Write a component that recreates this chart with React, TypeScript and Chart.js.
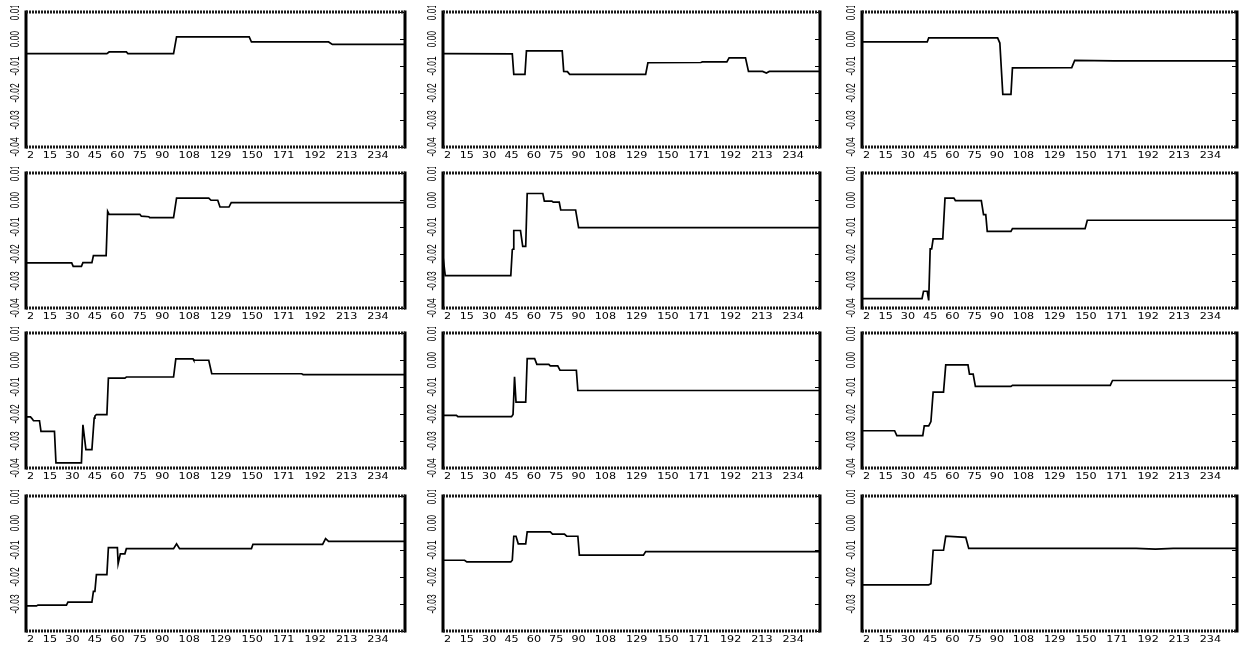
import React, { useEffect, useRef } from "react";
import { Chart, registerables } from "chart.js";

Chart.register(...registerables);

// ---------- data ----------
const xTickValues = [2, 15, 30, 45, 60, 75, 90, 108, 129, 150, 171, 192, 213, 234];
const xTickLabels = ["2", "15", "30", "45", "60", "75", "90", "108", "129", "150", "171", "192", "213", "234"];
const yTickValues = [0.01, 0, -0.01, -0.02, -0.03, -0.04];
const yTickLabels = ["0.01", "0.00", "-0.01", "-0.02", "-0.03", "-0.04"];
const xMin = -1;
const xMax = 252;
const yMin = -0.04;
const yMax = 0.01;

type P = [number, number];

const panel1: P[] = [[-1,-0.0054],[53,-0.0054],[54.5,-0.0048],[66,-0.0048],[67,-0.0054],[97.5,-0.0054],[99.5,0.0008],[148,0.0008],[149.5,-0.0011],[201,-0.0011],[203.5,-0.002],[252,-0.002]];
const panel2: P[] = [[-1,-0.0054],[45.5,-0.0055],[46.5,-0.0131],[54,-0.0131],[55,-0.0044],[79,-0.0044],[80,-0.012],[82.5,-0.0121],[84,-0.0131],[135,-0.0131],[136.5,-0.0088],[172,-0.0087],[173,-0.0085],[189.5,-0.0085],[191,-0.007],[202,-0.007],[204,-0.012],[213.5,-0.012],[216,-0.0126],[218,-0.012],[252,-0.012]];
const panel3: P[] = [[-1,-0.0011],[43,-0.0011],[44,0.0004],[90.5,0.0004],[92,-0.0015],[94,-0.0205],[99.5,-0.0205],[100.5,-0.0107],[140.5,-0.0106],[142.5,-0.0079],[169,-0.0081],[252,-0.0081]];
const panel4: P[] = [[-1,-0.0233],[29.5,-0.0233],[30.5,-0.0246],[36,-0.0246],[37,-0.0232],[43,-0.0232],[44,-0.0206],[52.5,-0.0206],[53.5,-0.0042],[54.5,-0.0053],[75,-0.0053],[76,-0.006],[81,-0.0062],[81.5,-0.0065],[97.5,-0.0065],[99.5,0.0007],[121,0.0007],[122.5,-0.0001],[127,-0.0001],[128.5,-0.0026],[134.5,-0.0026],[136,-0.001],[252,-0.001]];
const panel5: P[] = [[-1,-0.021],[0.5,-0.028],[44.5,-0.028],[45.5,-0.0184],[46,-0.0182],[46.5,-0.0113],[51,-0.0113],[52.5,-0.0172],[54.5,-0.0172],[55.5,0.0024],[66,0.0024],[67,-0.0004],[72,-0.0004],[73,-0.0008],[77,-0.0008],[78,-0.0037],[88,-0.0037],[90,-0.0102],[252,-0.0102]];
const panel6: P[] = [[-1,-0.0365],[39.5,-0.0365],[40.5,-0.0338],[43,-0.0338],[44,-0.0372],[45,-0.0181],[46,-0.0181],[47,-0.0144],[53.5,-0.0144],[55,0.0007],[61,0.0007],[62,-0.0002],[79.5,-0.0002],[81,-0.0054],[82.5,-0.0054],[83.5,-0.0116],[99.5,-0.0116],[100.5,-0.0106],[149.5,-0.0106],[151,-0.0075],[252,-0.0075]];
const panel7: P[] = [[-1,-0.0211],[2,-0.0211],[3,-0.0217],[4,-0.0225],[8,-0.0225],[9,-0.0264],[18,-0.0264],[19,-0.0381],[36,-0.0381],[37,-0.024],[39,-0.0332],[43,-0.0332],[44.5,-0.0215],[45,-0.0208],[46,-0.0202],[53,-0.0202],[54,-0.0067],[65,-0.0067],[66,-0.0063],[97.5,-0.0063],[99,0.0004],[110.5,0.0004],[111,-0.0001],[121,-0.0001],[123,-0.0051],[183,-0.0051],[184,-0.0054],[252,-0.0054]];
const panel8: P[] = [[-1,-0.0205],[8,-0.0205],[9,-0.021],[45,-0.021],[46,-0.0202],[47,-0.0062],[48,-0.0156],[54.5,-0.0156],[55.5,0.0005],[60.5,0.0005],[62,-0.0016],[70,-0.0016],[71,-0.0022],[76,-0.0022],[77.5,-0.0038],[88.5,-0.0038],[89.5,-0.0113],[252,-0.0113]];
const panel9: P[] = [[-1,-0.0262],[21,-0.0262],[22.5,-0.028],[40,-0.028],[41,-0.0244],[44,-0.0244],[45.5,-0.0228],[47,-0.0119],[54,-0.0119],[55.5,-0.0018],[70.5,-0.0018],[71.5,-0.0052],[74,-0.0052],[75.5,-0.0098],[99.5,-0.0098],[100.5,-0.0094],[166.5,-0.0094],[168,-0.0076],[252,-0.0076]];
const panel10: P[] = [[-1,-0.0307],[6,-0.0307],[7,-0.0304],[26,-0.0304],[27,-0.0293],[43,-0.0293],[44,-0.0253],[45,-0.0253],[46,-0.0191],[53,-0.0191],[54,-0.0091],[60,-0.0091],[60.5,-0.0151],[62,-0.0114],[65,-0.0114],[66,-0.0095],[97.5,-0.0095],[99.5,-0.0077],[101.5,-0.0095],[149.5,-0.0095],[150.5,-0.0079],[197,-0.0079],[199,-0.0058],[201,-0.0068],[252,-0.0068]];
const panel11: P[] = [[-1,-0.0138],[13.5,-0.0138],[15,-0.0144],[44.5,-0.0144],[45.5,-0.0138],[46.5,-0.0049],[48,-0.0049],[49.5,-0.0077],[54.5,-0.0077],[55.5,-0.0033],[71,-0.0033],[72.5,-0.0041],[80.5,-0.0041],[82,-0.0049],[89.5,-0.0049],[90.5,-0.0119],[133.5,-0.0119],[135,-0.0106],[252,-0.0106]];
const panel12: P[] = [[-1,-0.0229],[44,-0.0229],[45.5,-0.0225],[47,-0.0101],[54,-0.0101],[55.5,-0.0049],[69,-0.0053],[71,-0.0094],[184,-0.0094],[197,-0.0097],[209,-0.0094],[252,-0.0094]];

const panels: P[][] = [panel1, panel2, panel3, panel4, panel5, panel6, panel7, panel8, panel9, panel10, panel11, panel12];

// ---------- layout ----------
const colBounds: [number, number][] = [[26, 405], [443, 820], [862, 1237]];
const rowBounds: [number, number][] = [[12, 147], [173, 308], [333, 468], [496, 631]];
const PAD_L = 24;
const PAD_T = 6;
const PAD_R = 6;
const PAD_B = 22;

function Panel({ points, row, col }: { points: P[]; row: number; col: number }) {
  const ref = useRef<HTMLCanvasElement | null>(null);
  const [L, R] = colBounds[col];
  const [T, B] = rowBounds[row];
  const w = R - L + PAD_L + PAD_R;
  const h = B - T + PAD_T + PAD_B;
  const isBottomRow = row === rowBounds.length - 1;

  useEffect(() => {
    if (!ref.current) return;
    const framePlugin = {
      id: "frame" + row + "_" + col,
      afterDraw(chart: any) {
        const ctx = chart.ctx as CanvasRenderingContext2D;
        const { left, top, right, bottom } = chart.chartArea;
        const xs = chart.scales.x;
        const ys = chart.scales.y;
        ctx.save();
        // right-side inward ticks
        ctx.strokeStyle = "#000";
        ctx.lineWidth = 1;
        yTickValues.forEach((v) => {
          const y = Math.round(ys.getPixelForValue(v)) + 0.5;
          ctx.beginPath();
          ctx.moveTo(right - 1, y);
          ctx.lineTo(right - 5, y);
          ctx.stroke();
        });
        // frame
        ctx.lineWidth = 3;
        ctx.strokeStyle = "#000";
        ctx.beginPath();
        ctx.moveTo(left, top - 1.5);
        ctx.lineTo(left, bottom + 1.5);
        ctx.moveTo(right, top - 1.5);
        ctx.lineTo(right, bottom + 1.5);
        ctx.stroke();
        ctx.strokeStyle = "#1a1a1a";
        ctx.setLineDash([2, 1]);
        ctx.beginPath();
        ctx.moveTo(left, top);
        ctx.lineTo(right, top);
        ctx.moveTo(left, bottom);
        ctx.lineTo(right, bottom);
        ctx.stroke();
        ctx.setLineDash([]);
        // y labels (rotated, condensed)
        ctx.fillStyle = "#000";
        ctx.font = '12px "Liberation Sans", Arial, sans-serif';
        ctx.textAlign = "center";
        ctx.textBaseline = "middle";
        yTickValues.forEach((v, i) => {
          if (isBottomRow && v < -0.035) return;
          const y = ys.getPixelForValue(v);
          ctx.save();
          ctx.translate(left - 10, y);
          ctx.rotate(-Math.PI / 2);
          ctx.scale(0.7, 1);
          ctx.fillText(yTickLabels[i], 0, 0);
          ctx.restore();
        });
        // x labels (wide)
        ctx.font = '10px "DejaVu Sans", sans-serif';
        xTickValues.forEach((v, i) => {
          const x = xs.getPixelForValue(v);
          ctx.save();
          ctx.translate(x, bottom + 9);
          ctx.scale(1.12, 0.9);
          ctx.fillText(xTickLabels[i], 0, 0);
          ctx.restore();
        });
        ctx.restore();
      },
    };
    const chart = new Chart(ref.current, {
      type: "line",
      data: {
        datasets: [
          {
            data: points.map(([x, y]) => ({ x, y })),
            borderColor: "#000",
            borderWidth: 1.7,
            pointRadius: 0,
            tension: 0,
            fill: false,
          },
        ],
      },
      options: {
        responsive: false,
        animation: false,
        devicePixelRatio: 1,
        events: [],
        layout: { padding: { left: PAD_L, top: PAD_T, right: PAD_R, bottom: PAD_B } },
        plugins: { legend: { display: false }, tooltip: { enabled: false } },
        scales: {
          x: { type: "linear", display: false, min: xMin, max: xMax },
          y: { type: "linear", display: false, min: yMin, max: yMax },
        },
      },
      plugins: [framePlugin],
    } as any);
    return () => chart.destroy();
  }, [points, row, col]);

  return (
    <canvas
      ref={ref}
      width={w}
      height={h}
      style={{ position: "absolute", left: L - PAD_L, top: T - PAD_T, width: w, height: h }}
    />
  );
}

export default function App() {
  return (
    <div
      style={{
        position: "absolute",
        left: 0,
        top: 0,
        width: 1239,
        height: 650,
        overflow: "hidden",
        background: "#fff",
      }}
    >
      {panels.map((pts, i) => (
        <Panel key={i} points={pts} row={Math.floor(i / 3)} col={i % 3} />
      ))}
    </div>
  );
}
